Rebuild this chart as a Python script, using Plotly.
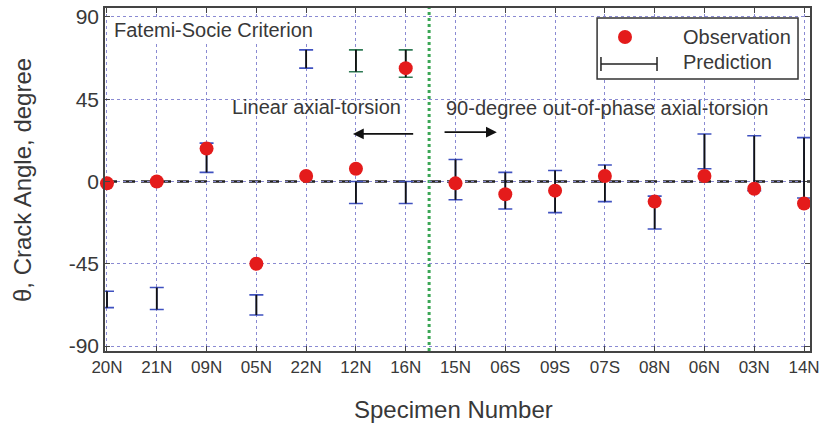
import plotly.graph_objects as go

# Specimens and measured crack angles (degrees)
specimens = ["20N", "21N", "09N", "05N", "22N", "12N", "16N", "15N",
             "06S", "09S", "07S", "08N", "06N", "03N", "14N"]
observed = [-1, 0, 18, -45, 3, 7, 62, -1, -7, -5, 3, -11, 3, -4, -12]

# Fatemi-Socie predicted crack-angle ranges (low, high)
pred_low = [-69, -70, 5, -73, 62, -12, -12, -10, -15, -17, -11, -26, 7, -5, -9]
pred_high = [-60, -58, 21, -62, 72, 0, 0, 12, 5, 6, 9, -8, 26, 25, 24]

# Second predicted plane for two linear-loading specimens
alt_specimens = ["12N", "16N"]
alt_low = [60, 57]
alt_high = [72, 72]

y_ticks = [-90, -45, 0, 45, 90]
y_tick_text = ["-90", "-45", "0", "45", "90"]

FONT = "Arial, Liberation Sans, sans-serif"
TXT = "#383838"
BLUE = "#3f51c0"
GREEN_CAP = "#2f7a55"
RED = "#e41b1b"


def span_trace(x, low, high, color, cap, thick):
    return go.Scatter(
        x=x, y=low, mode="markers",
        marker=dict(size=1, color="rgba(0,0,0,0)"),
        error_y=dict(type="data", symmetric=False,
                     array=[h - l for l, h in zip(low, high)],
                     arrayminus=[0] * len(low),
                     color=color, width=cap, thickness=thick),
        showlegend=False, hoverinfo="skip", cliponaxis=False,
    )


fig = go.Figure()
# coloured caps first, then black stems over them
fig.add_trace(span_trace(specimens, pred_low, pred_high, BLUE, 7, 1.6))
fig.add_trace(span_trace(alt_specimens, alt_low, alt_high, GREEN_CAP, 7, 1.6))
fig.add_trace(span_trace(specimens, pred_low, pred_high, "#111111", 0, 1.8))
fig.add_trace(span_trace(alt_specimens, alt_low, alt_high, "#111111", 0, 1.8))

fig.add_trace(go.Scatter(
    x=specimens, y=observed, mode="markers",
    marker=dict(size=14, color=RED, line=dict(width=0)),
    name="Observation", showlegend=False, cliponaxis=False,
))

grid = "#8a8ad2"
fig.update_xaxes(
    type="category", categoryorder="array", categoryarray=specimens,
    range=[-0.04, 14.12],
    showline=True, linecolor="#444444", linewidth=1.5, mirror="ticks",
    ticks="inside", ticklen=5, tickcolor="#444444", tickwidth=1.2,
    showgrid=True, gridcolor=grid, griddash="dot", gridwidth=1,
    tickfont=dict(family=FONT, size=17, color=TXT),
    zeroline=False,
)
fig.update_yaxes(
    range=[-92.7, 94.9],
    tickvals=y_ticks, ticktext=y_tick_text,
    showline=True, linecolor="#444444", linewidth=1.5, mirror="ticks",
    ticks="inside", ticklen=5, tickcolor="#444444", tickwidth=1.2,
    showgrid=True, gridcolor=grid, griddash="dot", gridwidth=1,
    tickfont=dict(family=FONT, size=21, color=TXT),
    zeroline=False,
)

shapes = [
    # reference line at zero crack angle
    dict(type="line", xref="paper", yref="y", x0=0, x1=1, y0=0, y1=0,
         line=dict(color="#222222", width=2.6, dash="12px,6px"), layer="between"),
    # divider between linear and out-of-phase loading
    dict(type="line", xref="x", yref="paper", x0=6.47, x1=6.47, y0=0, y1=1,
         line=dict(color="#3aa655", width=3, dash="dot"), layer="between"),
    # legend frame
    dict(type="rect", xref="paper", yref="paper", x0=0.698, x1=0.983,
         y0=0.793, y1=0.971, line=dict(color="#333333", width=1.5),
         fillcolor="white", layer="above"),
    # legend: observation dot
    dict(type="circle", xref="paper", yref="paper", xsizemode="pixel",
         ysizemode="pixel", xanchor=0.7376, yanchor=0.9155,
         x0=-7, x1=7, y0=-7, y1=7, fillcolor=RED, line=dict(width=0),
         layer="above"),
    # legend: prediction range symbol
    dict(type="line", xref="paper", yref="paper", x0=0.7035, x1=0.783,
         y0=0.8367, y1=0.8367, line=dict(color="#222222", width=1.5),
         layer="above"),
    dict(type="line", xref="paper", yref="paper", x0=0.7035, x1=0.7035,
         y0=0.816, y1=0.857, line=dict(color="#222222", width=1.5),
         layer="above"),
    dict(type="line", xref="paper", yref="paper", x0=0.783, x1=0.783,
         y0=0.816, y1=0.857, line=dict(color="#222222", width=1.5),
         layer="above"),
]

txt = dict(family=FONT, size=20, color=TXT)
annotations = [
    dict(text="Observation", xref="paper", yref="paper", x=0.817, y=0.9155,
         xanchor="left", yanchor="middle", showarrow=False, font=txt),
    dict(text="Prediction", xref="paper", yref="paper", x=0.817, y=0.8426,
         xanchor="left", yanchor="middle", showarrow=False, font=txt),
    dict(text="Fatemi-Socie Criterion", xref="paper", yref="paper",
         x=0.0099, y=0.936, xanchor="left", yanchor="middle",
         showarrow=False, font=txt, bgcolor="white"),
    dict(text="Linear axial-torsion", xref="paper", yref="paper",
         x=0.177, y=0.711, xanchor="left", yanchor="middle",
         showarrow=False, font=txt),
    dict(text="90-degree out-of-phase axial-torsion", xref="paper",
         yref="paper", x=0.481, y=0.708, xanchor="left", yanchor="middle",
         showarrow=False, font=txt),
    # direction arrows for each loading group
    dict(x=4.94, y=26, ax=6.18, ay=26, xref="x", yref="y", axref="x",
         ayref="y", text="", showarrow=True, arrowhead=2, arrowsize=1.2,
         arrowwidth=1.8, arrowcolor="#111111"),
    dict(x=7.83, y=27, ax=6.75, ay=27, xref="x", yref="y", axref="x",
         ayref="y", text="", showarrow=True, arrowhead=2, arrowsize=1.2,
         arrowwidth=1.8, arrowcolor="#111111"),
    # axis titles
    dict(text="Specimen Number", xref="paper", yref="paper", x=0.494,
         y=-0.172, xanchor="center", yanchor="middle", showarrow=False,
         font=dict(family=FONT, size=24, color=TXT)),
    dict(text="θ, Crack Angle, degree", xref="paper", yref="paper",
         x=-0.1177, y=0.4985, xanchor="center", yanchor="middle",
         textangle=-90, showarrow=False,
         font=dict(family=FONT, size=24, color=TXT)),
]

fig.update_layout(
    width=825, height=439,
    margin=dict(l=105, r=15, t=8, b=88, autoexpand=False),
    plot_bgcolor="white", paper_bgcolor="white",
    shapes=shapes, annotations=annotations,
    showlegend=False,
)

fig.write_html("out.html")
